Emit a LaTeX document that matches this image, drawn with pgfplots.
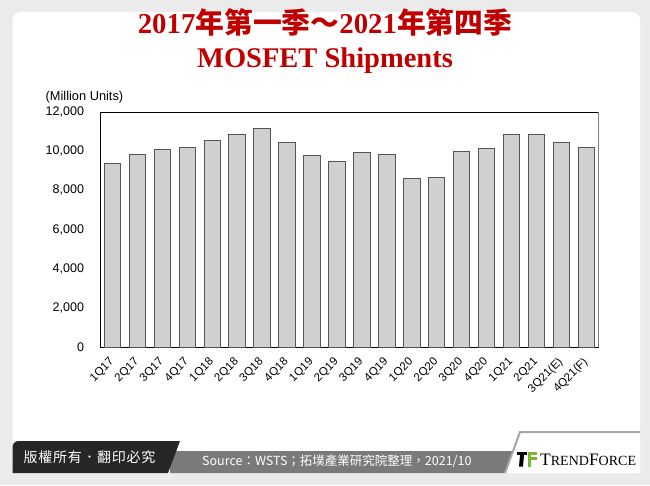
\documentclass[border=0pt]{standalone}
\usepackage{pgfplots}
\pgfplotsset{compat=1.18}
\usepackage{fontspec}
\setmainfont{Liberation Serif}
\newfontfamily\cjk{Noto Sans CJK TC}
\newfontfamily\cjkls[LetterSpace=5]{Noto Sans CJK TC}
\newfontfamily\arial{Liberation Sans}
\definecolor{bgcol}{HTML}{EBEBEB}
\definecolor{titred}{HTML}{C00000}
\definecolor{barfill}{HTML}{D0D0D0}
\definecolor{baredge}{HTML}{555555}
\definecolor{darkbar}{HTML}{262626}
\definecolor{midbar}{HTML}{7A7A7A}
\definecolor{tfgreen}{HTML}{7DB532}
\begin{document}
\begin{tikzpicture}[x=1pt,y=1pt]
% background
\fill[bgcol] (0,0) rectangle (650,485);
\fill[white, rounded corners=8pt] (12.5,12) rectangle (640,473);
% title
\node[text=titred, anchor=base, font=\fontsize{28.8}{30}\selectfont\bfseries] at (325,451.7) {2017{\cjk\bfseries 年第一季～}2021{\cjk\bfseries 年第四季}};
\node[text=titred, anchor=base, font=\fontsize{28.5}{30}\selectfont\bfseries] at (325,417.3) {MOSFET Shipments};
% unit label
\node[anchor=west, font=\arial\fontsize{12.8}{14}\selectfont, inner sep=0pt] at (45.5,387.5) {(Million Units)};
\begin{axis}[
  at={(100pt,138pt)}, anchor=south west,
  scale only axis, width=498.7pt, height=235pt,
  xmin=-0.5, xmax=19.5, ymin=0, ymax=12000,
  ybar, bar width=16.5pt,
  axis line style={black, line width=0.7pt},
  xtick={0,...,19},
  xticklabels={1Q17,2Q17,3Q17,4Q17,1Q18,2Q18,3Q18,4Q18,1Q19,2Q19,3Q19,4Q19,1Q20,2Q20,3Q20,4Q20,1Q21,2Q21,3Q21(E),4Q21(F)},
  ytick={0,2000,...,12000},
  scaled y ticks=false,
  major tick length=0pt,
  tick style={draw=none},
  /pgf/number format/assume math mode=true,
  yticklabel style={/pgf/number format/.cd, 1000 sep={,}, /tikz/.cd, font=\arial\fontsize{12.5}{14}\selectfont, xshift=-12.5pt},
  xticklabel style={xshift=-4pt, yshift=-8pt, rotate=45, anchor=north east, font=\arial\fontsize{11.5}{13}\selectfont, inner sep=1pt},
  clip=false,
]
\addplot[fill=barfill, draw=baredge, line width=0.8pt] coordinates {
(0,9350) (1,9830) (2,10070) (3,10210) (4,10530) (5,10840) (6,11180) (7,10445)
(8,9760) (9,9490) (10,9950) (11,9830) (12,8620) (13,8670) (14,10000) (15,10155)
(16,10870) (17,10840) (18,10445) (19,10210)};
\draw[gray, line width=1.2pt] (rel axis cs:1,0) -- (rel axis cs:1,1);
\end{axis}
% footer
\fill[midbar] (170,34) -- (515,34) -- (507,12) -- (170,12) -- cycle;
\fill[darkbar, rounded corners=6pt] (12.5,12) -- (12.5,44) [sharp corners]-- (180,44) -- (168,12) -- cycle;
\fill[white] (520,53) -- (640,53) -- (640,12) -- (505,12) -- cycle;
\draw[gray!70, line width=2pt] (505,12) -- (520,53) -- (640,53);
\node[text=white, font=\cjkls\fontsize{14}{16}\selectfont, anchor=west, inner sep=0pt] at (23.5,28) {版權所有．翻印必究};
\node[text=white, font=\cjk\fontsize{12.5}{15}\selectfont, anchor=west, inner sep=0pt] at (202,23.5) {Source：WSTS；拓墣產業研究院整理，2021/10};
% logo
\fill[black] (517,33) rectangle (527,30);
\fill[black] (520,30) -- (524,30) -- (523,18.5) -- (519,18.5) -- cycle;
\fill[tfgreen] (528,33) rectangle (537,30);
\fill[tfgreen] (528,28) rectangle (537,25);
\fill[tfgreen] (528,30) rectangle (531,18.5);
\node[anchor=west, inner sep=0pt, font=\fontsize{17.5}{18}\selectfont] at (540,25.5) {T{\fontsize{14}{14}\selectfont REND}F{\fontsize{14}{14}\selectfont ORCE}};
\end{tikzpicture}
\end{document}
